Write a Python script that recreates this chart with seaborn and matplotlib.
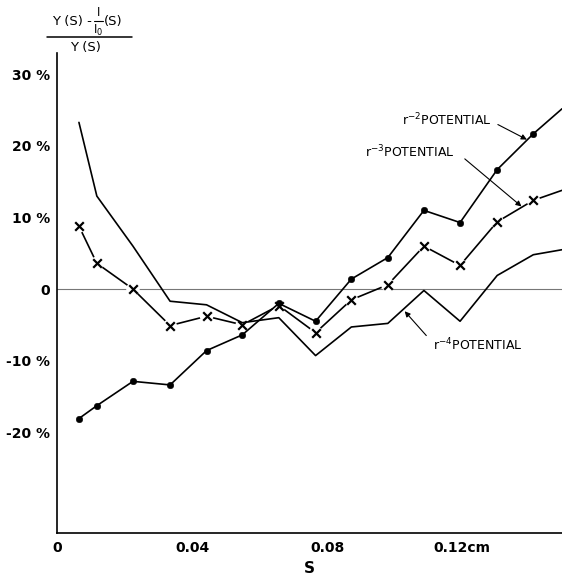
import matplotlib
matplotlib.use('Agg')
import matplotlib.pyplot as plt
from matplotlib.lines import Line2D
import numpy as np
import pandas as pd
import seaborn as sns

# values (last point = where each curve leaves the frame)
s_vals = [0.0065, 0.0118, 0.0225, 0.0335, 0.0443, 0.0549, 0.0657, 0.0766,
          0.0872, 0.0980, 0.1087, 0.1194, 0.1304, 0.1411, 0.1496]
r2_vals = [-18.1, -16.3, -12.9, -13.4, -8.6, -6.4, -2.0, -4.5,
           1.4, 4.4, 11.0, 9.3, 16.7, 21.7, 25.2]
r3_vals = [8.8, 3.6, 0.0, -5.1, -3.8, -5.0, -2.3, -6.1,
           -1.5, 0.6, 6.0, 3.3, 9.4, 12.4, 13.8]
r4_vals = [23.3, 13.0, 6.0, -1.7, -2.2, -4.7, -4.0, -9.3,
           -5.3, -4.8, -0.2, -4.5, 1.9, 4.8, 5.5]
n_measured = 14

y_ticks = [-20, -10, 0, 10, 20, 30]
y_labels = ['-20 %', '-10 %', '0', '10 %', '20 %', '30 %']
x_ticks = [0, 0.02, 0.04, 0.06, 0.08, 0.10, 0.12]
x_labels = ['0', '', '0.04', '', '0.08', '', '0.12cm']

df = pd.DataFrame({'S': s_vals, 'r2': r2_vals, 'r3': r3_vals, 'r4': r4_vals})
pts = df.iloc[:n_measured]

sns.set_style('white')
plt.rcParams['font.family'] = ['DejaVu Sans']
plt.rcParams['mathtext.fontset'] = 'dejavusans'
plt.rcParams['text.color'] = 'black'
plt.rcParams['axes.labelcolor'] = 'black'

fig = plt.figure(figsize=(5.62, 5.77), dpi=100)
ax = fig.add_axes([57/562, 44/577, 1 - 57/562, (533 - 53)/577])

lw = 1.2
ax.axhline(0, color='#777777', lw=0.8, zorder=1)

# r^-3 curve with gaps around the crosses
sns.lineplot(data=df, x='S', y='r3', ax=ax, color='black', lw=lw, zorder=2)
ax.scatter(pts['S'], pts['r3'], s=95, color='white', edgecolors='none', zorder=3)
sns.scatterplot(data=pts, x='S', y='r3', ax=ax, marker='x', s=38, color='black',
                linewidth=1.6, zorder=5)

sns.lineplot(data=df, x='S', y='r2', ax=ax, color='black', lw=lw, zorder=4)
sns.scatterplot(data=pts, x='S', y='r2', ax=ax, marker='o', s=22, color='black',
                edgecolor='black', zorder=5)
sns.lineplot(data=df, x='S', y='r4', ax=ax, color='black', lw=lw, zorder=4)

ax.set_xlim(0, 0.1496)
ax.set_ylim(-34.1, 33.0)
ax.set_yticks(y_ticks)
ax.set_yticklabels(y_labels, fontweight='bold')
ax.set_xticks(x_ticks)
ax.set_xticklabels(x_labels, fontweight='bold')
ax.tick_params(axis='both', direction='in', length=7, width=1, color='black',
               labelcolor='black', labelsize=10, pad=6)
ax.tick_params(axis='y', pad=5)
for side in ['top', 'right']:
    ax.spines[side].set_visible(False)
for side in ['left', 'bottom']:
    ax.spines[side].set_color('black')
    ax.spines[side].set_linewidth(1.2)
ax.set_ylabel('')
ax.set_xlabel('S', fontsize=11, fontweight='bold', labelpad=4)

# curve labels with arrows
arrow = dict(arrowstyle='-|>', color='black', lw=0.8, mutation_scale=8,
             shrinkA=0, shrinkB=0)
ax.text(0.1023, 23.7, r'$\mathrm{r}^{-2}$POTENTIAL', fontsize=9, ha='left', va='center')
ax.annotate('', xy=(0.1392, 20.9), xytext=(0.1306, 23.0), arrowprops=arrow)
ax.text(0.0911, 19.1, r'$\mathrm{r}^{-3}$POTENTIAL', fontsize=9, ha='left', va='center')
ax.annotate('', xy=(0.1376, 11.55), xytext=(0.1208, 18.2), arrowprops=arrow)
ax.text(0.1114, -7.8, r'$\mathrm{r}^{-4}$POTENTIAL', fontsize=9, ha='left', va='center')
ax.annotate('', xy=(0.1030, -3.1), xytext=(0.1094, -6.5), arrowprops=arrow)

# y-axis quantity written as a fraction above the axis
H = 577.0
W = 562.0
fig.text(92/W, 1 - 22/H, 'Y (S) -', fontsize=9.5, ha='right', va='center')
fig.text(98.5/W, 1 - 12/H, 'I', fontsize=8.5, ha='center', va='center')
fig.add_artist(Line2D([94/W, 103/W], [1 - 21/H, 1 - 21/H], color='black', lw=0.8,
                      transform=fig.transFigure))
fig.text(98.5/W, 1 - 30/H, r'I$_0$', fontsize=8.5, ha='center', va='center')
fig.text(104/W, 1 - 22/H, '(S)', fontsize=9.5, ha='left', va='center')
fig.add_artist(Line2D([47/W, 132/W], [1 - 36.5/H, 1 - 36.5/H],
                      color='black', lw=1.1, transform=fig.transFigure))
fig.text(85/W, 1 - 48/H, 'Y (S)', fontsize=9.5, ha='center', va='center')

fig.savefig('out.png', dpi=100)
